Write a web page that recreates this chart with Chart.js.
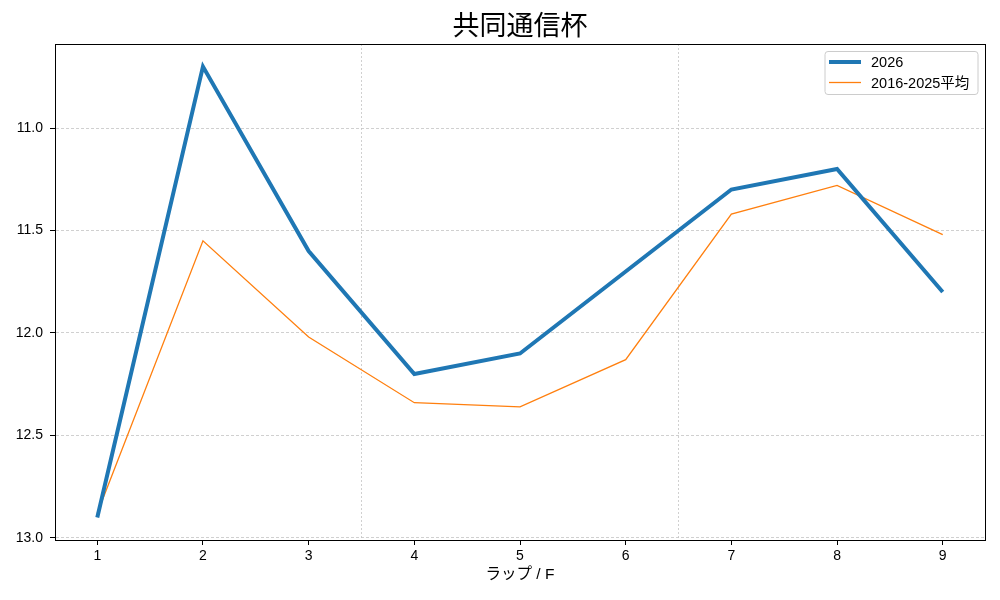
<!DOCTYPE html>
<html><head><meta charset="utf-8">
<script src="https://cdn.jsdelivr.net/npm/chart.js@4/dist/chart.umd.min.js"></script>
<style>html,body{margin:0;padding:0;background:#fff;}#wrap{width:1000px;height:600px;}</style>
</head><body><div id="wrap"><canvas id="c" width="1000" height="600"></canvas></div>
<script>
const laps = [1, 2, 3, 4, 5, 6, 7, 8, 9];
const series2026 = [12.9, 10.7, 11.6, 12.2, 12.1, 11.7, 11.3, 11.2, 11.8];
const seriesAvg = [12.88, 11.55, 12.02, 12.34, 12.36, 12.13, 11.42, 11.28, 11.52];
const yTicks = [11.0, 11.5, 12.0, 12.5, 13.0];
const xTicks = [1, 2, 3, 4, 5, 6, 7, 8, 9];
const sectionLines = [3.5, 6.5];
const titleText = '共同通信杯';
const xLabel = 'ラップ / F';
const label2026 = '2026';
const labelAvg = '2016-2025平均';

const FONT = "'Liberation Sans', 'Noto Sans CJK JP', sans-serif";
const TITLE_FONT = "'Noto Sans CJK JP', sans-serif";
const isSection = v => sectionLines.includes(v);

const framePlugin = {
  id: 'frame',
  afterDraw(chart) {
    const {ctx, chartArea: a} = chart;
    ctx.save();
    ctx.strokeStyle = '#000';
    ctx.lineWidth = 1;
    ctx.strokeRect(Math.round(a.left) + 0.5, Math.round(a.top) + 0.5, Math.round(a.right - a.left), Math.round(a.bottom - a.top));
    ctx.restore();
  }
};

const titlePlugin = {
  id: 'areaTitle',
  afterDraw(chart) {
    const {ctx, chartArea: a} = chart;
    ctx.save();
    ctx.font = '27px ' + TITLE_FONT;
    ctx.fillStyle = '#000';
    ctx.textAlign = 'center';
    ctx.textBaseline = 'middle';
    ctx.fillText(titleText, (a.left + a.right) / 2, 25);
    ctx.restore();
  }
};

const legendPlugin = {
  id: 'innerLegend',
  afterDraw(chart) {
    const ctx = chart.ctx;
    const a = chart.chartArea;
    const bx = a.right - 160, by = a.top + 7.5, bw = 153, bh = 43;
    ctx.save();
    ctx.beginPath();
    ctx.roundRect(bx, by, bw, bh, 3);
    ctx.fillStyle = 'rgba(255,255,255,0.8)';
    ctx.fill();
    ctx.strokeStyle = '#cccccc';
    ctx.lineWidth = 1;
    ctx.stroke();
    ctx.font = '14.5px ' + FONT;
    ctx.textBaseline = 'middle';
    ctx.fillStyle = '#000';
    chart.data.datasets.forEach((ds, i) => {
      const y = by + 10.5 + i * 20.5;
      ctx.beginPath();
      ctx.moveTo(bx + 4, y);
      ctx.lineTo(bx + 36, y);
      ctx.strokeStyle = ds.borderColor;
      ctx.lineWidth = ds.borderWidth;
      ctx.stroke();
      ctx.fillText(ds.label, bx + 46, y + 1);
    });
    ctx.restore();
  }
};

new Chart(document.getElementById('c'), {
  type: 'line',
  data: {
    datasets: [
      {
        label: label2026,
        data: laps.map((x, i) => ({x, y: series2026[i]})),
        borderColor: '#1f77b4',
        backgroundColor: '#1f77b4',
        borderWidth: 4,
        pointRadius: 0,
        tension: 0,
        fill: false
      },
      {
        label: labelAvg,
        data: laps.map((x, i) => ({x, y: seriesAvg[i]})),
        borderColor: '#ff7f0e',
        backgroundColor: '#ff7f0e',
        borderWidth: 1.3,
        pointRadius: 0,
        tension: 0,
        fill: false
      }
    ]
  },
  options: {
    responsive: false,
    animation: false,
    devicePixelRatio: 1,
    layout: {padding: {left: 0, right: 15, top: 44, bottom: 0}},
    plugins: {
      legend: {display: false},
      tooltip: {enabled: false},
      title: {display: false}
    },
    scales: {
      x: {
        type: 'linear',
        min: 0.6,
        max: 9.4,
        afterBuildTicks: s => { s.ticks = [...xTicks, ...sectionLines].sort((a, b) => a - b).map(v => ({value: v})); },
        afterFit: s => { s.height = 60; },
        ticks: {
          autoSkip: false,
          maxRotation: 0,
          color: '#000',
          padding: 3,
          font: {family: FONT, size: 14},
          callback: v => Number.isInteger(v) ? String(v) : ''
        },
        grid: {
          color: c => (c.tick && isSection(c.tick.value)) ? '#c4c4c4' : 'rgba(0,0,0,0)',
          lineWidth: 0.8,
          tickColor: c => (c.tick && isSection(c.tick.value)) ? 'rgba(0,0,0,0)' : '#000',
          tickLength: 5,
          tickWidth: 1,
          tickBorderDash: []
        },
        border: {display: true, color: '#000', width: 1, dash: [2, 2]},
        title: {
          display: true,
          text: xLabel,
          color: '#000',
          font: {family: FONT, size: 15.5},
          padding: {top: 0, bottom: 16}
        }
      },
      y: {
        type: 'linear',
        reverse: true,
        min: 10.59,
        max: 13.01,
        afterBuildTicks: s => { s.ticks = yTicks.map(v => ({value: v})); },
        afterFit: s => { s.width = 55; },
        ticks: {
          color: '#000',
          padding: 7,
          font: {family: FONT, size: 14},
          callback: v => Number(v).toFixed(1)
        },
        grid: {
          color: '#c4c4c4',
          lineWidth: 0.8,
          tickColor: '#000',
          tickLength: 5,
          tickWidth: 1,
          tickBorderDash: []
        },
        border: {display: true, color: '#000', width: 1, dash: [3, 2]}
      }
    }
  },
  plugins: [framePlugin, titlePlugin, legendPlugin]
});
</script>
</body></html>
